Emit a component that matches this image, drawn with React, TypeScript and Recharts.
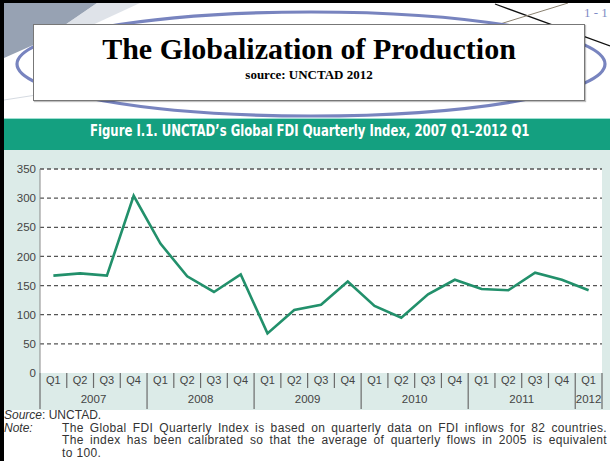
import { LineChart, Line, XAxis, YAxis, CartesianGrid } from 'recharts';

// quarters shown on the x axis
const periods = [
  '2007 Q1', '2007 Q2', '2007 Q3', '2007 Q4',
  '2008 Q1', '2008 Q2', '2008 Q3', '2008 Q4',
  '2009 Q1', '2009 Q2', '2009 Q3', '2009 Q4',
  '2010 Q1', '2010 Q2', '2010 Q3', '2010 Q4',
  '2011 Q1', '2011 Q2', '2011 Q3', '2011 Q4',
  '2012 Q1',
];

// Global FDI Quarterly Index (2005 average = 100)
const fdiIndex = [
  167, 171, 167, 304,
  222, 166, 139, 169,
  68, 108, 117, 157,
  115, 95, 135, 160,
  144, 142, 172, 160,
  142,
];

const yTicks = [0, 50, 100, 150, 200, 250, 300, 350];
const gridValues = [50, 100, 150, 200, 250, 300, 350];

const noteLines = [
  'The Global FDI Quarterly Index is based on quarterly data on FDI inflows for 82 countries.',
  'The index has been calibrated so that the average of quarterly flows in 2005 is equivalent',
  'to 100.',
];

const data = periods.map((period, i) => ({ period, value: fdiIndex[i] }));

const sans = "'Liberation Sans', Arial, Helvetica, sans-serif";
const serif = "'Liberation Serif', 'Times New Roman', serif";
const axisGrey = '#6b6b6b';

function PeriodTick(props: any) {
  const { x, y, payload } = props;
  const [year, q] = String(payload.value).split(' ');
  const idx = payload.index ?? props.index;
  const half = payload.offset || 13.4;
  const isLast = idx === periods.length - 1;
  const yearStart = q === 'Q1';
  const left = x - half;

  return (
    <g>
      <line x1={left} x2={left} y1={y} y2={y + (yearStart ? 36 : 15)} stroke={axisGrey} strokeWidth={1.2} />
      {isLast && <line x1={x + half} x2={x + half} y1={y} y2={y + 36} stroke={axisGrey} strokeWidth={1.2} />}
      <text x={x} y={y + 11} textAnchor="middle" fontSize={11} fontFamily={sans} fill="#444">
        {q}
      </text>
      {q === 'Q3' && (
        <text x={left} y={y + 30} textAnchor="middle" fontSize={11.5} fontFamily={sans} fill="#444">
          {year}
        </text>
      )}
      {isLast && yearStart && (
        <text x={x} y={y + 30} textAnchor="middle" fontSize={11.5} fontFamily={sans} fill="#444">
          {year}
        </text>
      )}
    </g>
  );
}

export default function App() {
  return (
    <div
      style={{
        position: 'absolute',
        left: 0,
        top: 0,
        width: 610,
        height: 461,
        overflow: 'hidden',
        background: '#fff',
        fontFamily: sans,
      }}
    >
      {/* slide decoration */}
      <svg width={610} height={120} style={{ position: 'absolute', left: 0, top: 0 }}>
        <polygon points="4,3 97,3 40,42 4,58" fill="#97a2b3" />
        <polygon points="97,3 140,3 60,40 40,42" fill="#c9d0da" opacity={0.6} />
        <line x1={4} y1={100} x2={120} y2={82} stroke="#d6dbe2" strokeWidth={1} />
        <line x1={495} y1={4} x2={610} y2={46} stroke="#111" strokeWidth={1.3} />
        <line x1={500} y1={24} x2={568} y2={3} stroke="#8a8070" strokeWidth={1} />
        <ellipse cx={311} cy={64} rx={294} ry={52} fill="none" stroke="#7884bf" strokeWidth={3.2} />
        <text x={584} y={17} fontSize={13} fontFamily={serif} fill="#7f8cc6">1 - 1</text>
      </svg>

      {/* title box */}
      <div
        style={{
          position: 'absolute',
          left: 33,
          top: 24,
          width: 550,
          height: 75,
          background: '#fff',
          border: '1px solid #777',
          boxShadow: '1px 1px 1px rgba(0,0,0,0.25)',
          textAlign: 'center',
          fontFamily: serif,
          fontWeight: 'bold',
        }}
      >
        <div style={{ fontSize: 30, lineHeight: '30px', marginTop: 9 }}>The Globalization of Production</div>
        <div style={{ fontSize: 13, lineHeight: '15px', marginTop: 3 }}>source: UNCTAD 2012</div>
      </div>

      {/* figure header */}
      <div
        style={{
          position: 'absolute',
          left: 0,
          top: 118,
          width: 610,
          height: 32,
          background: '#14a080',
          borderTop: '1px solid #9fe0d2',
          boxSizing: 'border-box',
        }}
      >
        <div
          style={{
            position: 'absolute',
            left: 90,
            top: 3,
            whiteSpace: 'nowrap',
            color: '#fff',
            fontWeight: 'bold',
            fontSize: 15,
            fontFamily: "'DejaVu Sans Condensed', 'Liberation Sans Narrow', sans-serif",
            fontStretch: 'condensed',
            transform: 'scaleX(0.865)',
            transformOrigin: 'left center',
          }}
        >
          Figure I.1. UNCTAD’s Global FDI Quarterly Index, 2007 Q1–2012 Q1
        </div>
      </div>

      {/* chart panel */}
      <div style={{ position: 'absolute', left: 0, top: 150, width: 610, height: 260, background: '#dcebe8' }} />
      <div style={{ position: 'absolute', left: 0, top: 150 }}>
        <LineChart width={610} height={262} data={data} margin={{ top: 19, right: 8, bottom: 1, left: 0 }}>
          <CartesianGrid
            vertical={false}
            horizontalValues={gridValues}
            stroke="#555"
            strokeWidth={1.3}
            strokeDasharray="4 3"
            fill="#fff"
          />
          <XAxis
            dataKey="period"
            scale="band"
            interval={0}
            height={38}
            axisLine={false}
            tickLine={false}
            tickSize={0}
            tickMargin={0}
            tick={<PeriodTick />}
          />
          <YAxis
            domain={[0, 350]}
            ticks={yTicks}
            width={40}
            axisLine={{ stroke: '#8a8a8a' }}
            tickLine={false}
            tickSize={2}
            tickMargin={2}
            tick={{ fontSize: 11.5, fill: '#444', fontFamily: sans }}
          />
          <YAxis yAxisId="r" orientation="right" width={0} tick={false} axisLine={{ stroke: '#8a8a8a' }} tickLine={false} />
          <Line
            type="linear"
            dataKey="value"
            stroke="#22906b"
            strokeWidth={2.6}
            dot={false}
            isAnimationActive={false}
          />
        </LineChart>
      </div>

      {/* source & note */}
      <div style={{ position: 'absolute', left: 4, top: 409, fontSize: 12, lineHeight: '12.5px', color: '#333', whiteSpace: 'nowrap' }}>
        <div>
          <i>Source</i>: UNCTAD.
        </div>
        <div style={{ display: 'flex' }}>
          <i style={{ width: 58, flex: 'none' }}>Note:</i>
          <div style={{ width: 545, letterSpacing: 0.35 }}>
            {noteLines.map((line, i) => (
              <div
                key={i}
                style={{
                  whiteSpace: 'normal',
                  textAlign: 'justify',
                  textAlignLast: i < noteLines.length - 1 ? 'justify' : 'left',
                }}
              >
                {line}
              </div>
            ))}
          </div>
        </div>
      </div>

      {/* slide frame */}
      <div style={{ position: 'absolute', left: 0, top: 0, width: 4, height: 461, background: '#000' }} />
      <div style={{ position: 'absolute', left: 0, top: 0, width: 610, height: 3, background: '#000' }} />
    </div>
  );
}
